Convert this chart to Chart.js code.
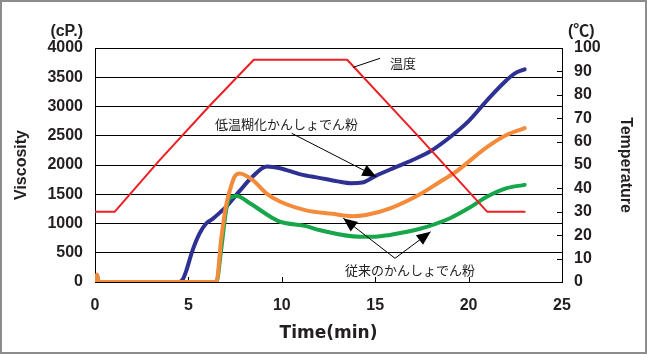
<!DOCTYPE html>
<html>
<head>
<meta charset="utf-8">
<script src="https://cdn.jsdelivr.net/npm/chart.js@4"></script>
<style>
  html, body { margin: 0; padding: 0; background: #fff; }
  #wrap { width: 647px; height: 354px; position: relative; }
</style>
</head>
<body>
<div id="wrap"><canvas id="chart"></canvas></div>
<script>
// ===== DATOS =====
// Tiempo (min) y viscosidad (cP.)
const blueTime = [0, 0.1, 0.2, 4.5, 4.7, 4.9, 5.2, 5.6, 5.95, 6.3, 6.7, 7.0, 7.7, 8.4, 9.2, 9.9, 11, 12, 13, 13.7, 14.3, 15, 16, 17, 17.9, 19, 20, 21, 22, 22.5, 23];
const blueVisc = [0, 120, 0, 0, 45, 205, 520, 830, 1000, 1080, 1190, 1280, 1540, 1790, 1975, 1945, 1840, 1780, 1720, 1690, 1700, 1810, 1950, 2085, 2225, 2475, 2750, 3110, 3440, 3570, 3635];

const orangeTime = [0, 0.1, 0.2, 6.5, 6.75, 7.0, 7.2, 7.47, 7.75, 8.45, 9.17, 9.9, 11.3, 12.7, 13.8, 14.5, 15.8, 17.4, 18.6, 19.2, 21.0, 22.0, 23.0];
const orangeVisc = [0, 130, 0, 0, 720, 1280, 1545, 1800, 1855, 1740, 1515, 1375, 1225, 1165, 1125, 1145, 1260, 1500, 1740, 1855, 2310, 2510, 2630];

const greenTime = [0, 6.5, 6.75, 7.02, 7.2, 7.6, 8.27, 9.52, 9.9, 11.3, 12.0, 14.17, 15.0, 15.78, 17.4, 19.0, 20.1, 21.0, 22.0, 23.0];
const greenVisc = [0, 0, 545, 1230, 1430, 1470, 1350, 1090, 1030, 955, 890, 775, 775, 805, 910, 1090, 1280, 1460, 1600, 1660];

// Temperatura (°C)
const tempTime = [0, 1.05, 3.45, 6.1, 8.5, 13.5, 17.4, 21.0, 23.0];
const tempDeg  = [30, 30, 52, 75, 95, 95, 61.5, 30, 30];

// Ejes
const timeMax = 25, timeStep = 5;
const viscMax = 4000, viscStep = 500;
const tempMax = 100, tempStep = 10;

// Anotaciones: texto, posición del texto (min, cP.), líneas [desde, hasta, flecha]
const noteTexts = ['温度', '低温糊化かんしょでん粉', '従来のかんしょでん粉'];
const noteAt = [[15.79, 3744], [6.42, 2701], [13.38, 205]];
const noteLines = [
    [[15.26, 3824], [13.83, 3670], false],
    [[10.53, 2542], [15.06, 1800], true],
    [[16.06, 405], [13.29, 1089], true],
    [[16.06, 405], [17.97, 860], true],
];

// ===== HELPERS =====
const toPoints = (xs, ys) => xs.map((x, i) => ({ x, y: ys[i] }));
const TICK_FONT = { family: "'Liberation Sans', Arial, sans-serif", size: 16, weight: 'bold' };
const INK = '#231f20';
const plain = v => String(v);

// ===== PLUGINS =====
const paper = {
    id: 'paper',
    beforeDraw(chart) {
        const { ctx, width, height } = chart;
        ctx.save();
        ctx.fillStyle = '#fff';
        ctx.fillRect(0, 0, width, height);
        ctx.restore();
    },
    beforeDatasetsDraw(chart) {
        // marcas de graduación hacia adentro
        const { ctx, chartArea: a, scales } = chart;
        ctx.save();
        ctx.strokeStyle = '#000';
        ctx.lineWidth = 1;
        ctx.beginPath();
        scales.y2.ticks.forEach(t => {
            const y = Math.round(scales.y2.getPixelForValue(t.value)) + 0.5;
            ctx.moveTo(a.right - 5, y); ctx.lineTo(a.right, y);
        });
        scales.x.ticks.forEach(t => {
            const x = Math.round(scales.x.getPixelForValue(t.value)) + 0.5;
            ctx.moveTo(x, a.bottom - 5); ctx.lineTo(x, a.bottom);
        });
        ctx.stroke();
        ctx.restore();
    },
    afterDatasetsDraw(chart) {
        const { ctx, scales } = chart;
        const px = (p) => [scales.x.getPixelForValue(p[0]), scales.y.getPixelForValue(p[1])];
        ctx.save();
        ctx.strokeStyle = '#000';
        ctx.fillStyle = '#000';
        ctx.lineWidth = 1;
        noteLines.forEach(([from, to, arrow]) => {
            const [x1, y1] = px(from);
            const [x2, y2] = px(to);
            ctx.beginPath();
            ctx.moveTo(x1, y1); ctx.lineTo(x2, y2);
            ctx.stroke();
            if (arrow) {
                const ang = Math.atan2(y2 - y1, x2 - x1);
                const len = 14, half = 6;
                const bx = x2 - len * Math.cos(ang), by = y2 - len * Math.sin(ang);
                ctx.beginPath();
                ctx.moveTo(x2, y2);
                ctx.lineTo(bx + half * Math.sin(ang), by - half * Math.cos(ang));
                ctx.lineTo(bx - half * Math.sin(ang), by + half * Math.cos(ang));
                ctx.closePath();
                ctx.fill();
            }
        });
        ctx.fillStyle = INK;
        ctx.font = "13px 'Noto Sans CJK JP', sans-serif";
        ctx.textAlign = 'left';
        ctx.textBaseline = 'middle';
        noteTexts.forEach((txt, i) => {
            const [x, y] = px(noteAt[i]);
            ctx.fillText(txt, x, y);
        });
        ctx.restore();
    },
    afterDraw(chart) {
        const { ctx, width, height, chartArea: a, scales } = chart;
        ctx.save();
        // unidades
        ctx.fillStyle = INK;
        ctx.font = "bold 16px 'Liberation Sans', 'Noto Sans CJK JP', sans-serif";
        ctx.textBaseline = 'middle';
        ctx.textAlign = 'right';
        ctx.fillText('(cP.)', scales.y.right - 12, a.top - 16);
        ctx.textAlign = 'left';
        ctx.fillText('(℃)', scales.y2.left + 6, a.top - 16);
        // marco
        ctx.strokeStyle = '#8c8c8c';
        ctx.lineWidth = 2;
        ctx.strokeRect(1, 1, width - 2, height - 2);
        ctx.restore();
    }
};

// ===== GRÁFICA =====
const lineStyle = (color, width) => ({
    borderColor: color,
    backgroundColor: color,
    borderWidth: width,
    pointRadius: 0,
    fill: false,
    borderJoinStyle: 'round',
    borderCapStyle: 'round',
});

new Chart(document.getElementById('chart'), {
    type: 'line',
    data: {
        datasets: [
            { ...lineStyle('#ed2024', 2), data: toPoints(tempTime, tempDeg), yAxisID: 'y2', tension: 0 },
            { ...lineStyle('#f38b3a', 4), data: toPoints(orangeTime, orangeVisc), yAxisID: 'y', cubicInterpolationMode: 'monotone' },
            { ...lineStyle('#17a64a', 4), data: toPoints(greenTime, greenVisc), yAxisID: 'y', cubicInterpolationMode: 'monotone' },
            { ...lineStyle('#2e3192', 4), data: toPoints(blueTime, blueVisc), yAxisID: 'y', cubicInterpolationMode: 'monotone' },
        ]
    },
    options: {
        responsive: true,
        maintainAspectRatio: false,
        devicePixelRatio: 1,
        animation: false,
        layout: { padding: { top: 48, left: 0, right: 0, bottom: 0 } },
        plugins: { legend: { display: false }, tooltip: { enabled: false } },
        scales: {
            x: {
                type: 'linear',
                min: 0, max: timeMax,
                afterFit: s => { s.height = 72; },
                ticks: { stepSize: timeStep, font: TICK_FONT, color: INK, padding: 14, maxRotation: 0, callback: plain },
                grid: { display: false, drawTicks: false },
                border: { display: true, color: '#000', width: 1 },
                title: {
                    display: true, text: 'Time(min)', color: INK,
                    font: { family: "'DejaVu Sans', sans-serif", size: 17, weight: 'bold' },
                    padding: { top: 0, bottom: 10 }
                }
            },
            y: {
                position: 'left',
                min: 0, max: viscMax,
                afterFit: s => { s.width = 95; },
                ticks: { stepSize: viscStep, font: TICK_FONT, color: INK, padding: 12, callback: plain },
                grid: { color: '#000', lineWidth: 1, drawTicks: false },
                border: { display: true, color: '#000', width: 1 },
                title: {
                    display: true, text: 'Viscosity', color: INK,
                    font: TICK_FONT,
                    padding: { top: 12, bottom: 0 }
                }
            },
            y2: {
                position: 'right',
                min: 0, max: tempMax,
                afterFit: s => { s.width = 85; },
                ticks: { stepSize: tempStep, font: TICK_FONT, color: INK, padding: 12, callback: plain },
                grid: { display: false, drawTicks: false },
                border: { display: true, color: '#000', width: 1 },
                title: {
                    display: true, text: 'Temperature', color: INK,
                    font: TICK_FONT,
                    padding: { top: 12, bottom: 0 }
                }
            }
        }
    },
    plugins: [paper]
});
</script>
</body>
</html>
